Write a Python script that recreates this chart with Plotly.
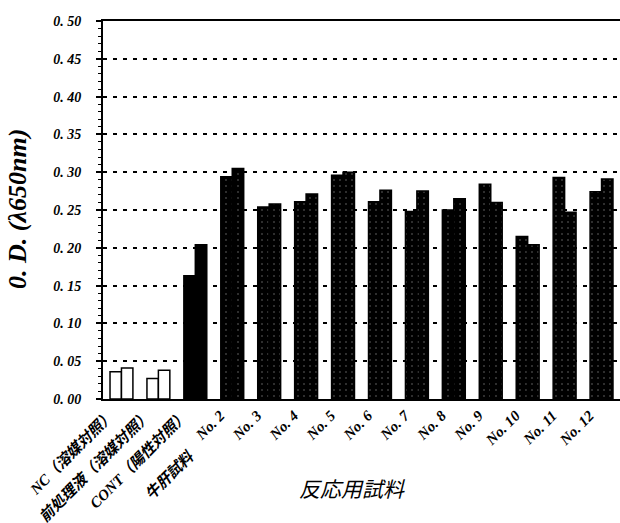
import plotly.graph_objects as go

categories = ["NC（溶媒対照）", "前処理液（溶媒対照）", "CONT（陽性対照）",
              "No. 2", "No. 3", "No. 4", "No. 5", "No. 6", "No. 7", "No. 8",
              "No. 9", "No. 10", "No. 11", "No. 12"]
sub_label = "牛肝試料"   # second line of the CONT label
series_a = [0.036, 0.027, 0.163, 0.294, 0.254, 0.261, 0.296, 0.261, 0.248, 0.250, 0.284, 0.215, 0.293, 0.274]
series_b = [0.041, 0.038, 0.204, 0.305, 0.258, 0.271, 0.300, 0.276, 0.275, 0.265, 0.260, 0.204, 0.247, 0.291]
y_ticks = [0.00, 0.05, 0.10, 0.15, 0.20, 0.25, 0.30, 0.35, 0.40, 0.45, 0.50]
y_ticktext = ["0. 00", "0. 05", "0. 10", "0. 15", "0. 20", "0. 25", "0. 30", "0. 35", "0. 40", "0. 45", "0. 50"]
x_title = "反応用試料"
y_title = "0. D. (λ650nm)"

n = len(categories)
fill = ["white" if i < 2 else "black" for i in range(n)]
shapes = ["" if i < 3 else "." for i in range(n)]

def bar(vals):
    return go.Bar(
        x=categories, y=vals,
        marker=dict(color=fill, line=dict(color="black", width=1.5),
                    pattern=dict(shape=shapes, fillmode="overlay",
                                 fgcolor="#ffffff", size=6, solidity=0.04)),
        showlegend=False, hoverinfo="skip",
    )

fig = go.Figure([bar(series_a), bar(series_b)])

tickfont = dict(family="Liberation Serif, 'Noto Sans CJK JP', serif", size=14,
                color="black", weight="bold", style="italic")

L, T, B = 103, 21, 124
W, H = 620, 523

fig.update_layout(
    width=W, height=H,
    margin=dict(l=L, r=0, t=T, b=B),
    paper_bgcolor="white", plot_bgcolor="white",
    barmode="group", bargap=0.38, bargroupgap=0,
    xaxis=dict(
        showline=True, linecolor="black", linewidth=2, mirror=True,
        ticks="", tickangle=-45, tickfont=dict(tickfont, size=15),
        showgrid=False, range=[-0.5, n - 0.5], ticklabelshift=-12,
        ticklabelstandoff=0, automargin=False,
    ),
    yaxis=dict(
        range=[0, 0.5], tickvals=y_ticks, ticktext=y_ticktext,
        showline=True, linecolor="black", linewidth=2,
        ticks="outside", ticklen=5, tickwidth=1.5, tickcolor="black",
        minor=dict(dtick=0.01, ticks="outside", ticklen=3, tickcolor="black", tickwidth=1, showgrid=False),
        showgrid=True, gridcolor="black", gridwidth=2, griddash="4px,6px",
        zeroline=False, tickfont=tickfont, ticklabelstandoff=12,
        automargin=False,
    ),
    annotations=[
        dict(text=x_title, x=352, y=H - 488, showarrow=False, xanchor="center", yanchor="middle",
             font=dict(family="'Noto Sans CJK JP', sans-serif", size=21, color="black", style="italic")),
        dict(text=y_title, x=17, y=H - 209, showarrow=False, textangle=-90,
             xanchor="center", yanchor="middle",
             font=dict(family="Liberation Serif, serif", size=26, color="black", style="italic", weight="bold")),
        dict(text=sub_label, x=170, y=H - 475, showarrow=False, textangle=-45,
             xanchor="center", yanchor="middle",
             font=dict(family="Liberation Serif, 'Noto Sans CJK JP', serif", size=15, color="black",
                       style="italic", weight="bold")),
    ],
)
# convert pixel annotation positions to paper coordinates
pw, ph = W - L, H - T - B
for a in fig.layout.annotations:
    a.xref = "paper"; a.yref = "paper"
    a.x = (a.x - L) / pw
    a.y = (a.y - B) / ph

fig.write_html("out.html", config={"displayModeBar": False},
               post_script="document.body.style.margin='0';document.body.style.overflow='hidden';")
